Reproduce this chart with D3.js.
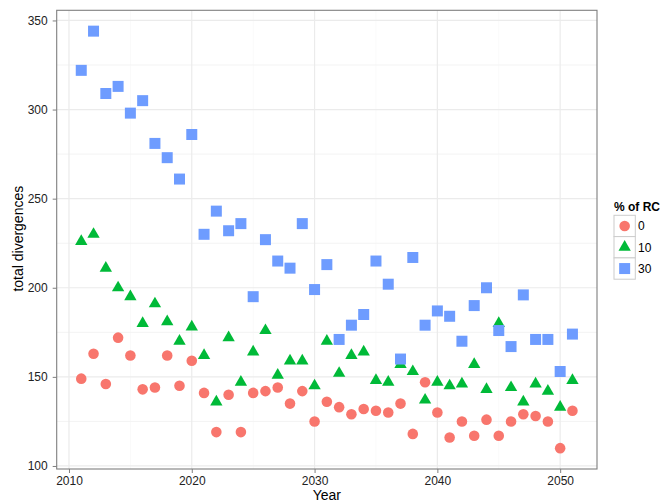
<!DOCTYPE html>
<html>
<head>
<meta charset="utf-8">
<script src="https://cdn.jsdelivr.net/npm/d3@7"></script>
<style>
  body { margin: 0; background: #fff; }
  text { font-family: "Liberation Sans", Arial, Helvetica, sans-serif; }
</style>
</head>
<body>
<div id="chart"></div>
<script>
// data
var years = d3.range(2011, 2052);
var rc0 = [149, 163, 146, 172, 162, 143, 144, 162, 145, 159,
           141, 119, 140, 119, 141, 142, 144, 135, 142, 125,
           136, 133, 129, 132, 131, 130, 135, 118, 147, 130,
           116, 125, 117, 126, 117, 125, 129, 128, 125, 110, 131];
var rc10 = [226, 230, 211, 200, 195, 180, 191, 181, 170, 178,
            162, 136, 172, 147, 164, 176, 151, 159, 159, 145,
            170, 152, 162, 164, 148, 147, 157, 153, 137, 147,
            145, 146, 157, 143, 180, 144, 136, 146, 142, 133, 148];
var rc30 = [322, 344, 309, 313, 298, 305, 281, 273, 261, 286,
            230, 243, 232, 236, 195, 227, 215, 211, 236, 199,
            213, 171, 179, 185, 215, 202, 160, 217, 179, 187,
            184, 170, 190, 200, 176, 167, 196, 171, 171, 153, 174];
var groups = ["0", "10", "30"];
var xTicks = [2010, 2020, 2030, 2040, 2050];
var yTicks = [100, 150, 200, 250, 300, 350];

var W = 661, H = 502;
var margin = {top: 10.3, right: 64, bottom: 33, left: 56.7},
    width = W - margin.left - margin.right,
    height = H - margin.top - margin.bottom;

var color = d3.scaleOrdinal().domain(groups).range(["#F8766D", "#00BA38", "#6E9CFF"]);
var shape = d3.scaleOrdinal().domain(groups).range([d3.symbolCircle, d3.symbolTriangle, d3.symbolSquare]);
var size = d3.scaleOrdinal().domain(groups).range([88, 66, 121]);

var x = d3.scaleLinear().domain([2009, 2053]).range([0, width]);
var y = d3.scaleLinear().domain([98.3, 355.7]).range([height, 0]);

var svg = d3.select("#chart").append("svg")
    .attr("width", W)
    .attr("height", H)
  .append("g")
    .attr("transform", "translate(" + margin.left + "," + margin.top + ")");

// grid: minor then major
var grid = svg.append("g");
grid.selectAll(".minor-x").data([2015, 2025, 2035, 2045]).enter().append("line")
    .attr("x1", d => x(d)).attr("x2", d => x(d))
    .attr("y1", 0).attr("y2", height)
    .attr("stroke", "#FAFAFA").attr("stroke-width", 1);
grid.selectAll(".minor-y").data([125, 175, 225, 275, 325]).enter().append("line")
    .attr("x1", 0).attr("x2", width)
    .attr("y1", d => y(d)).attr("y2", d => y(d))
    .attr("stroke", "#F3F3F3").attr("stroke-width", 1);
grid.selectAll(".major-x").data(xTicks).enter().append("line")
    .attr("x1", d => x(d)).attr("x2", d => x(d))
    .attr("y1", 0).attr("y2", height)
    .attr("stroke", "#EBEBEB").attr("stroke-width", 1.2);
grid.selectAll(".major-y").data(yTicks).enter().append("line")
    .attr("x1", 0).attr("x2", width)
    .attr("y1", d => y(d)).attr("y2", d => y(d))
    .attr("stroke", "#EBEBEB").attr("stroke-width", 1.2);

// points
var series = [
  {name: "0", values: rc0},
  {name: "10", values: rc10},
  {name: "30", values: rc30}
];

series.forEach(function(s) {
  svg.append("g").selectAll("path")
      .data(s.values)
      .enter().append("path")
      .attr("transform", function(d, i) { return "translate(" + x(years[i]) + "," + y(d) + ")"; })
      .attr("d", d3.symbol().type(shape(s.name)).size(size(s.name)))
      .attr("fill", color(s.name));
});

// panel border
svg.append("rect")
    .attr("width", width).attr("height", height)
    .attr("fill", "none").attr("stroke", "#7F7F7F").attr("stroke-width", 1.1);

// axes
var xAxis = svg.append("g")
    .attr("transform", "translate(0," + height + ")")
    .call(d3.axisBottom(x).tickValues(xTicks).tickFormat(d3.format("d")).tickSize(4).tickPadding(3));
var yAxis = svg.append("g")
    .call(d3.axisLeft(y).tickValues(yTicks).tickSize(4).tickPadding(5));

[xAxis, yAxis].forEach(function(a) {
  a.select(".domain").remove();
  a.selectAll(".tick line").attr("stroke", "#7F7F7F");
  a.selectAll(".tick text").attr("fill", "#222").style("font-size", "12px")
      .style("font-family", "'Liberation Sans', Arial, sans-serif");
});

svg.append("text")
    .attr("x", width / 2)
    .attr("y", height + 31.5)
    .attr("text-anchor", "middle")
    .style("font-size", "14px")
    .attr("fill", "#000")
    .text("Year");

svg.append("text")
    .attr("transform", "rotate(-90)")
    .attr("x", -(238.7 - margin.top))
    .attr("y", 23 - margin.left)
    .attr("text-anchor", "middle")
    .style("font-size", "14px")
    .attr("fill", "#000")
    .text("total divergences");

// legend
var legend = d3.select("svg").append("g")
    .attr("transform", "translate(614,201)");

legend.append("text")
    .attr("x", 0).attr("y", 9.5)
    .style("font-size", "12px")
    .style("font-weight", "bold")
    .text("% of RC");

var key = legend.selectAll(".key")
    .data(groups)
    .enter().append("g")
    .attr("transform", function(d, i) { return "translate(0," + (14.3 + i * 21.3) + ")"; });

key.append("rect")
    .attr("width", 21.3).attr("height", 21.3)
    .attr("fill", "#fff").attr("stroke", "#CCCCCC").attr("stroke-width", 1);

key.append("path")
    .attr("transform", "translate(10.65,10.65)")
    .attr("d", function(d) { return d3.symbol().type(shape(d)).size(size(d))(); })
    .attr("fill", function(d) { return color(d); });

key.append("text")
    .attr("x", 24)
    .attr("y", 10.65)
    .attr("dy", "0.36em")
    .style("font-size", "12px")
    .text(function(d) { return d; });
</script>
</body>
</html>
